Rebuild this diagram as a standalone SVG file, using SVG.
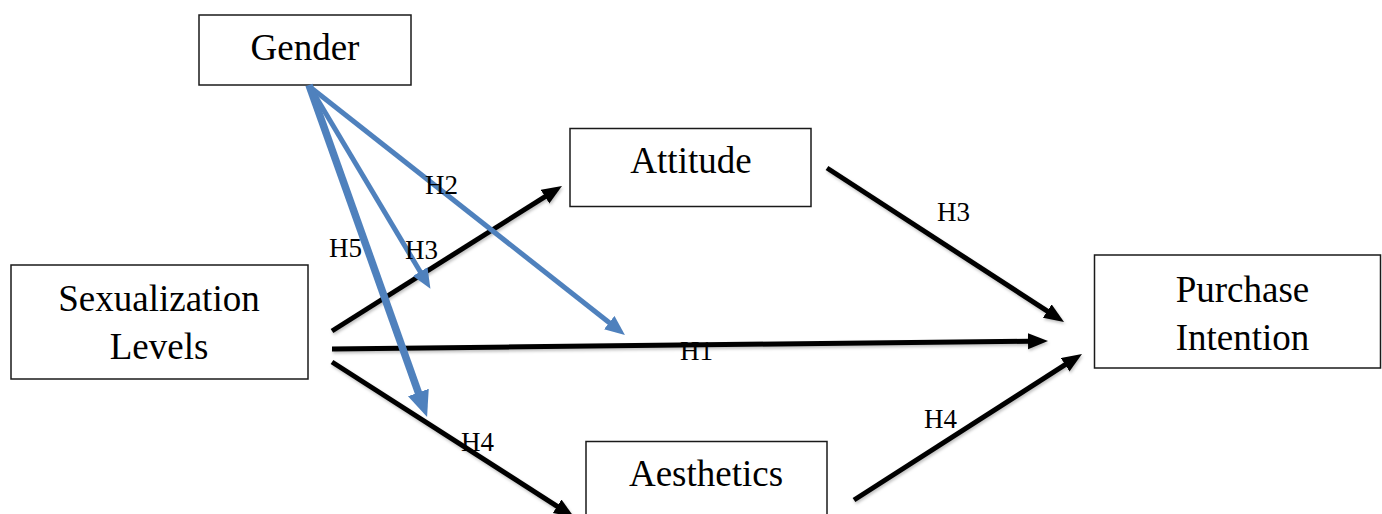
<svg xmlns="http://www.w3.org/2000/svg" width="1382" height="514" viewBox="0 0 1382 514">
<style>
.box{fill:#fff;stroke:#1a1a1a;stroke-width:1.5}
.nt{font-family:"Liberation Serif","Times New Roman",serif;font-size:37px;fill:#000;text-anchor:middle}
.lb{font-family:"Liberation Serif","Times New Roman",serif;font-size:27px;fill:#000}
.bk{stroke:#000;stroke-width:5;fill:none;marker-end:url(#ab)}
.bl{stroke:#4f81bd;stroke-width:5;fill:none;marker-end:url(#abl)}
.bl5{stroke:#4f81bd;stroke-width:7.5;fill:none;marker-end:url(#abl5)}
</style>
<defs>
<filter id="sh" x="-10%" y="-10%" width="120%" height="130%">
<feDropShadow dx="1" dy="2" stdDeviation="1.5" flood-color="#000" flood-opacity="0.25"/>
</filter>
<marker id="ab" markerUnits="userSpaceOnUse" markerWidth="22" markerHeight="18" refX="1" refY="8" orient="auto">
<path d="M0,0 L20,8 L0,16 Z" fill="#000"/>
</marker>
<marker id="abl" markerUnits="userSpaceOnUse" markerWidth="22" markerHeight="18" refX="1" refY="8.5" orient="auto">
<path d="M0,0 L20,8.5 L0,17 Z" fill="#4f81bd"/>
</marker>
<marker id="abl5" markerUnits="userSpaceOnUse" markerWidth="28" markerHeight="24" refX="1" refY="11" orient="auto">
<path d="M0,0 L26,11 L0,22 Z" fill="#4f81bd"/>
</marker>
</defs>

<g id="node-gender">
<rect class="box" x="199" y="15" width="212" height="70"/>
<text class="nt" x="305" y="60">Gender</text>
</g>
<g id="node-attitude">
<rect class="box" x="570" y="128.5" width="241" height="78"/>
<text class="nt" x="691" y="173">Attitude</text>
</g>
<g id="node-sexualization">
<rect class="box" x="11" y="265" width="297" height="114"/>
<text class="nt" x="159" y="311">Sexualization</text>
<text class="nt" x="159" y="359">Levels</text>
</g>
<g id="node-purchase">
<rect class="box" x="1094.5" y="255" width="286" height="113"/>
<text class="nt" x="1242.5" y="302">Purchase</text>
<text class="nt" x="1242.5" y="350">Intention</text>
</g>
<g id="node-aesthetics">
<rect class="box" x="586" y="441.5" width="241" height="80"/>
<text class="nt" x="706" y="486">Aesthetics</text>
</g>

<g id="connectors">
<g filter="url(#sh)">
<line class="bk" x1="332" y1="331" x2="545.9" y2="196.1"/>
<line class="bk" x1="332" y1="349" x2="1029" y2="341.2"/>
<line class="bk" x1="332" y1="362" x2="558" y2="506.8"/>
<line class="bk" x1="827" y1="168" x2="1048.1" y2="311.6"/>
<line class="bk" x1="854" y1="500" x2="1066" y2="364.2"/>
</g>
<line class="bl" x1="310" y1="87" x2="610" y2="323.2"/>
<line class="bl" x1="310" y1="87" x2="420.7" y2="272.5"/>
<line class="bl5" x1="309" y1="85" x2="418.7" y2="393.4"/>
</g>

<g id="labels">
<text class="lb" x="425" y="194">H2</text>
<text class="lb" x="329" y="257">H5</text>
<text class="lb" x="405" y="259">H3</text>
<text class="lb" x="680" y="360">H1</text>
<text class="lb" x="461" y="451">H4</text>
<text class="lb" x="937" y="221">H3</text>
<text class="lb" x="924" y="428">H4</text>
</g>
</svg>
